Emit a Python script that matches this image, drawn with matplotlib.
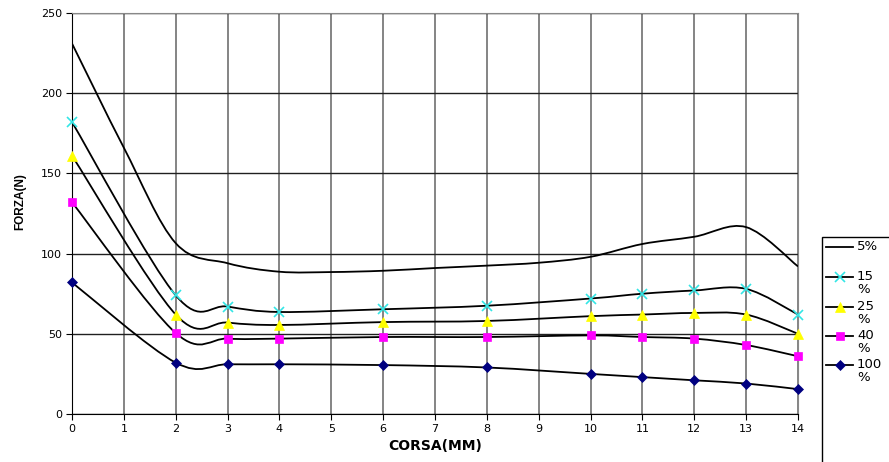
import matplotlib
matplotlib.use("Agg")
import matplotlib.pyplot as plt
from matplotlib.path import Path
from matplotlib.patches import PathPatch, Rectangle
from matplotlib.lines import Line2D

plt.rcParams['font.family'] = ['DejaVu Sans']

# 5% curve has no markers, read at every mm
corsa_5 = list(range(0, 15))
forza_5 = [231, 166, 106.5, 94, 88.7, 88.5, 89.3, 91, 92.5, 94.3, 98, 106, 110.5, 116.5, 92]

corsa = [0, 2, 3, 4, 6, 8, 10, 11, 12, 13, 14]
forza_15 = [182, 74, 67, 63.6, 65.3, 67.5, 72, 75, 77, 78, 62]
forza_25 = [161, 62, 57, 55.5, 57.3, 58, 61, 62, 63, 62, 50]
forza_40 = [132, 50.5, 47, 47, 48, 48, 49, 48, 47, 43, 36]
forza_100 = [82, 32, 31, 31, 30.5, 29, 25, 23, 21, 19, 15.5]

labels = ["5%", "15\n%", "25\n%", "40\n%", "100\n%"]

series = [
    (corsa_5, forza_5, None, None, 0),
    (corsa, forza_15, 'x', '#33e6e6', 7),
    (corsa, forza_25, '^', '#ffff00', 7.5),
    (corsa, forza_40, 's', '#ff00ff', 6),
    (corsa, forza_100, 'D', '#000080', 5),
]


def smooth_path(xs, ys):
    # bezier segments like the excel "smoothed line"
    verts = [(xs[0], ys[0])]
    codes = [Path.MOVETO]
    n = len(xs)
    for i in range(n - 1):
        x0, y0 = xs[max(i - 1, 0)], ys[max(i - 1, 0)]
        x1, y1 = xs[i], ys[i]
        x2, y2 = xs[i + 1], ys[i + 1]
        x3, y3 = xs[min(i + 2, n - 1)], ys[min(i + 2, n - 1)]
        c1 = (x1 + (x2 - x0) / 6, y1 + (y2 - y0) / 6)
        c2 = (x2 - (x3 - x1) / 6, y2 - (y3 - y1) / 6)
        verts += [c1, c2, (x2, y2)]
        codes += [Path.CURVE4] * 3
    return Path(verts, codes)


W, H = 889, 462
fig = plt.figure(figsize=(W / 100, H / 100), dpi=100)
ax = fig.add_axes([72 / W, 1 - 414 / H, (798 - 72) / W, (414 - 13) / H])

for xs, ys, mk, col, ms in series:
    ax.add_patch(PathPatch(smooth_path(xs, ys), facecolor='none', edgecolor='black', lw=1.3, zorder=3))
    if mk:
        ax.plot(xs, ys, linestyle='none', marker=mk, color=col, markersize=ms,
                markeredgewidth=1.2 if mk == 'x' else 0.5, markeredgecolor=col, zorder=4, clip_on=False)

ax.set_xlim(0, 14)
ax.set_ylim(0, 250)
ax.set_xticks(range(0, 15))
ax.set_yticks(range(0, 251, 50))
ax.xaxis.grid(True, color='#707070', lw=1.2)
ax.yaxis.grid(True, color='#202020', lw=1)
ax.set_axisbelow(True)
for s in ['top', 'right']:
    ax.spines[s].set_color('#888888')
ax.tick_params(labelsize=8, length=4, direction='out', pad=3)
ax.set_xlabel("CORSA(MM)", fontsize=10, fontweight='bold', labelpad=4)
ax.set_ylabel("FORZA(N)", fontsize=8.5, fontweight='bold', family='Liberation Sans')
ax.yaxis.set_label_coords(-0.063, 0.53)

# legend box, runs off the bottom edge like the original
fig.patches.append(Rectangle((822 / W, -0.1), 0.2, 1 - 237 / H + 0.1, transform=fig.transFigure,
                             facecolor='white', edgecolor='black', lw=1))
row_y = [247, 277, 307, 336, 365]
for (xs, ys, mk, col, ms), lab, py in zip(series, labels, row_y):
    yf = 1 - py / H
    fig.lines.append(Line2D([826 / W, 853 / W], [yf, yf], transform=fig.transFigure, color='black', lw=1.3))
    if mk:
        fig.lines.append(Line2D([839.5 / W], [yf], transform=fig.transFigure, linestyle='none', marker=mk,
                                color=col, markersize=ms, markeredgewidth=1.2 if mk == 'x' else 0.5,
                                markeredgecolor=col))
    fig.text(857 / W, 1 - (py - 7) / H, lab, fontsize=9.5, va='top', ha='left', linespacing=1.0)

fig.savefig("out.png", dpi=100)
